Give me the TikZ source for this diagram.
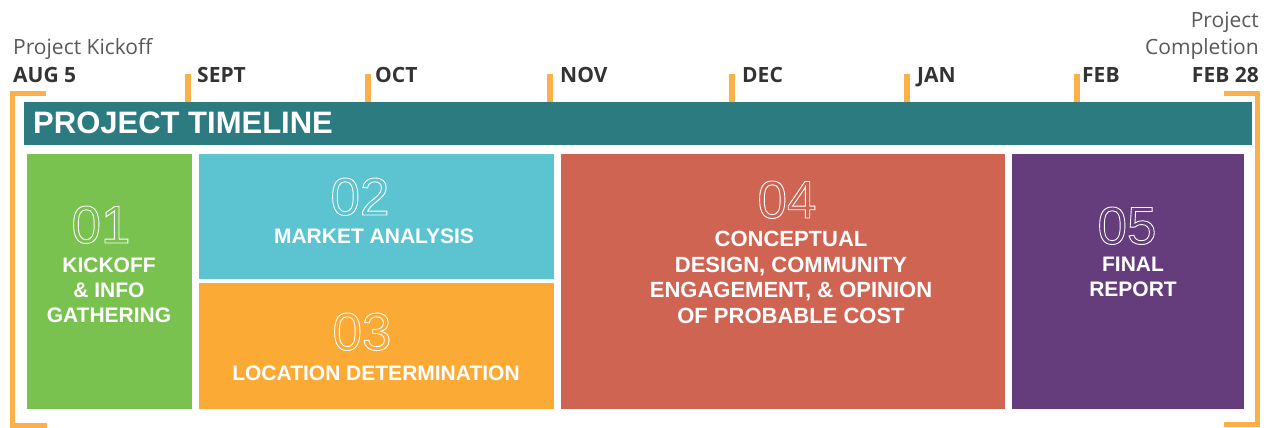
\documentclass[tikz,border=0pt]{standalone}
\usepackage{fontspec}
\setmainfont{Liberation Sans}
\newfontfamily\opensans{Open Sans}
\usepackage{xcolor}
\usetikzlibrary{positioning}
\definecolor{tl-teal}{HTML}{2B7B81}
\definecolor{tl-green}{HTML}{7AC250}
\definecolor{tl-cyan}{HTML}{5BC4D0}
\definecolor{tl-amber}{HTML}{FBAB35}
\definecolor{tl-red}{HTML}{D06452}
\definecolor{tl-purple}{HTML}{653C7C}
\definecolor{tl-orange}{HTML}{FBB04B}
\definecolor{tl-dark}{HTML}{333333}
\definecolor{tl-gray}{HTML}{595959}
\newcommand{\hollow}[1]{\special{pdf:literal direct 1 Tr 0.9 w}#1\special{pdf:literal direct 0 Tr}}

\begin{document}
\begin{tikzpicture}[x=1pt, y=-1pt,
      type-phase/.style={rectangle, anchor=north west, inner sep=0pt},
      type-number/.style={anchor=base, inner sep=0pt, text=white, font=\fontsize{53}{53}\selectfont},
      type-label/.style={anchor=base, inner sep=0pt, align=center, text=white, font=\fontsize{21}{25}\selectfont\bfseries},
      type-month/.style={anchor=base west, inner sep=0pt, text=tl-dark, font=\opensans\fontsize{21}{25}\selectfont\bfseries},
      type-note/.style={inner sep=0pt, align=right, text=tl-gray, font=\opensans\fontsize{21}{27}\selectfont},
      type-tick/.style={draw=tl-orange, line width=6pt},
      type-bracket/.style={draw=tl-orange, line width=5pt}
    ]
      \useasboundingbox (0,0) rectangle (1272,428);
      \foreach \x/\t/\m [count=\i] in {188/197/SEPT, 368/375/OCT, 550/560/NOV, 732/742/DEC, 907/917/JAN, 1077/1082/FEB} {
        \draw[type-tick] (\x,74) -- (\x,103);
        \node[type-month] (month-\i) at (\t,82) {\m};
      }
      \node[type-month] (start) at (13,82) {AUG 5};
      \node[type-month, anchor=base east] (end) at (1259,82) {FEB 28};
      \node[type-note, anchor=base west] (kickoff-note) at (13,55) {Project Kickoff};
      \node[type-note, anchor=base east] (completion-note) at (1259,28) {Project};
      \node[type-note, anchor=base east] (completion-note-2) at (1259,55) {Completion};
      \draw[type-bracket] (46,93.5) -- (12.5,93.5) -- (12.5,425.5) -- (46.5,425.5);
      \draw[type-bracket] (1224,93) -- (1257.5,93) -- (1257.5,424) -- (1224,424);

      \node[type-phase, fill=tl-teal, minimum width=1228pt, minimum height=43pt] (banner) at (24,102) {};
      \node[anchor=base west, inner sep=0pt, text=white, font=\fontsize{31}{31}\selectfont\bfseries] (title) at (33,133) {PROJECT TIMELINE};

      \node[type-phase, fill=tl-green, minimum width=165pt, minimum height=255pt] (kickoff) at (27,154) {};
      \node[type-phase, fill=tl-cyan, minimum width=355pt, minimum height=125pt] (market) at (199,154) {};
      \node[type-phase, fill=tl-amber, minimum width=355pt, minimum height=126pt] (location) at (199,283) {};
      \node[type-phase, fill=tl-red, minimum width=444pt, minimum height=255pt] (design) at (561,154) {};
      \node[type-phase, fill=tl-purple, minimum width=232pt, minimum height=255pt] (report) at (1012,154) {};

      \node[type-number] (num-1) at (101,243) {\hollow{01}};
      \node[type-number] (num-2) at (360,215) {\hollow{02}};
      \node[type-number] (num-3) at (362,350) {\hollow{03}};
      \node[type-number] (num-4) at (787,218) {\hollow{04}};
      \node[type-number] (num-5) at (1127,244) {\hollow{05}};

      \node[type-label] (label-1) at (109,322) {KICKOFF\\\& INFO\\GATHERING};
      \node[type-label] (label-2) at (374,243) {MARKET ANALYSIS};
      \node[type-label] (label-3) at (376,380) {LOCATION DETERMINATION};
      \node[type-label, font=\fontsize{22}{25.5}\selectfont\bfseries] (label-4) at (791,323) {CONCEPTUAL\\DESIGN, COMMUNITY\\ENGAGEMENT, \& OPINION\\OF PROBABLE COST};
      \node[type-label] (label-5) at (1133,296) {FINAL\\REPORT};
    \end{tikzpicture}
\end{document}
